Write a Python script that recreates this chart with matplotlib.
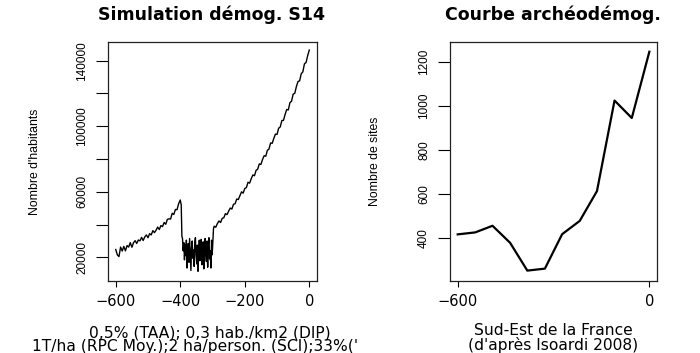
import numpy as np
import matplotlib
matplotlib.use('Agg')
import matplotlib.pyplot as plt
from matplotlib.transforms import Bbox, TransformedBbox

# --- left panel: simulated population ---
pre_years = list(range(-600, -399, 5))
pre_pop = [24800, 21500, 20500, 26300, 23900, 26700, 24000, 27200, 26300, 29000,
           26200, 28900, 30200, 28500, 30600, 30100, 32200, 30300, 32500, 33700,
           32000, 34500, 33700, 36300, 35100, 36600, 38500, 37000, 39400, 38800,
           41300, 40200, 43200, 43500, 43400, 46900, 46200, 49200, 49100, 52800,
           55000]

crash_years = [-397, -395] + list(range(-393, -298, 2))
crash_pop = [52000, 33000,
             31500, 24000, 29000, 18500, 27500, 21000, 30500, 13500, 25000, 28500,
             17000, 31500, 22500, 12000, 26000, 30000, 19500, 24500, 14500, 29000,
             32000, 21000, 16000, 27500, 11500, 23000, 30500, 18000, 25500, 31000,
             15500, 20500, 29500, 13000, 26500, 31500, 22000, 17500, 30000, 14000,
             28000, 32000, 19000, 24000, 13500, 30500, 21500, 29500]

post_years = [-297] + list(range(-295, 1, 5))
post_pop = [37500,
            39000, 38400, 40600, 42200, 41300, 43800, 44200, 46700, 46100, 48200,
            50100, 49500, 52400, 52700, 55600, 55300, 57600, 60000, 59200, 62000,
            62600, 65800, 65300, 68000, 70300, 69800, 73100, 73800, 77000, 76700,
            79700, 82000, 81700, 85300, 86100, 89800, 89600, 92600, 95200, 95000,
            98800, 99600, 103500, 103600, 107200, 110200, 110000, 114400, 115300, 119600,
            120100, 124200, 127300, 127700, 132000, 133200, 138100, 138900, 143100, 146500]

pop_yticks = [20000, 40000, 60000, 80000, 100000, 120000, 140000]
pop_yticklabels = ['20000', '', '60000', '', '100000', '', '140000']
pop_xticks = [-600, -400, -200, 0]

# --- right panel: archaeological sites ---
sites_years = [-600, -545, -491, -436, -382, -327, -273, -218, -164, -109, -55, 0]
sites_count = [418, 427, 457, 380, 254, 263, 419, 479, 614, 1024, 945, 1245]
sites_yticks = [400, 600, 800, 1000, 1200]
sites_xticks = [-600, 0]

# the reference is stretched sideways: wide face for horizontal text,
# narrow face for the rotated labels
HFONT = 'DejaVu Sans'
VFONT = 'Liberation Sans'
plt.rcParams['font.family'] = HFONT


def style_axes(ax):
    for sp in ax.spines.values():
        sp.set_linewidth(0.9)
        sp.set_color('#222222')
    ax.tick_params(axis='x', direction='out', length=4.5, width=0.8,
                   labelsize=10.5, pad=5)
    ax.tick_params(axis='y', direction='out', length=8.3, width=0.8,
                   labelsize=8.5, pad=6)
    for lab in ax.get_yticklabels():
        lab.set_rotation(90)
        lab.set_va('center')
        lab.set_family(VFONT)


def set_ylabel(ax, text, xfrac):
    ax.set_ylabel(text, fontsize=8.8, family=VFONT, va='center')
    ax.yaxis.set_label_coords(xfrac, 0.5)


fig = plt.figure(figsize=(7.0, 3.53), dpi=100)

# left panel
ax1 = fig.add_axes([0.1543, 0.204, 0.2986, 0.677])
years = pre_years + crash_years + post_years
pop = pre_pop + crash_pop + post_pop
ax1.plot(years, pop, color='black', lw=1.0)
ax1.set_xlim(-624, 24)
ax1.set_ylim(5600, 151400)
ax1.set_xticks(pop_xticks)
ax1.set_yticks(pop_yticks)
ax1.set_yticklabels(pop_yticklabels)
style_axes(ax1)
set_ylabel(ax1, "Nombre d'habitants", (35 - 108) / 209)
fig.text(211 / 700, 1 - 15 / 353, 'Simulation démog. S14', ha='center', va='center',
         fontsize=12.5, fontweight='bold')

# right panel
ax2 = fig.add_axes([0.6429, 0.204, 0.2957, 0.677])
ax2.plot(sites_years, sites_count, color='black', lw=1.6)
ax2.set_xlim(-624, 24)
ax2.set_ylim(207, 1289)
ax2.set_xticks(sites_xticks)
ax2.set_yticks(sites_yticks)
style_axes(ax2)
set_ylabel(ax2, 'Nombre de sites', (375 - 450) / 207)
fig.text(553 / 700, 1 - 15 / 353, 'Courbe archéodémog.', ha='center', va='center',
         fontsize=12.5, fontweight='bold')

# bottom captions (second left line is cut at the panel border, as in R)
cap = fig.text(210 / 700, 1 - 340 / 353,
               "0,5% (TAA); 0,3 hab./km2 (DIP)\n"
               "1T/ha (RPC Moy.);2 ha/person. (SCI);33%('SP')",
               ha='center', va='center', multialignment='center',
               fontsize=11.2, linespacing=0.85, clip_on=True)
cap.set_clip_box(TransformedBbox(Bbox([[0, 0], [357 / 700, 1]]), fig.transFigure))
fig.text(553 / 700, 1 - 338 / 353,
         "Sud-Est de la France\n(d'après Isoardi 2008)",
         ha='center', va='center', multialignment='center',
         fontsize=11.2, linespacing=0.85)

fig.savefig('out.png', dpi=100)
